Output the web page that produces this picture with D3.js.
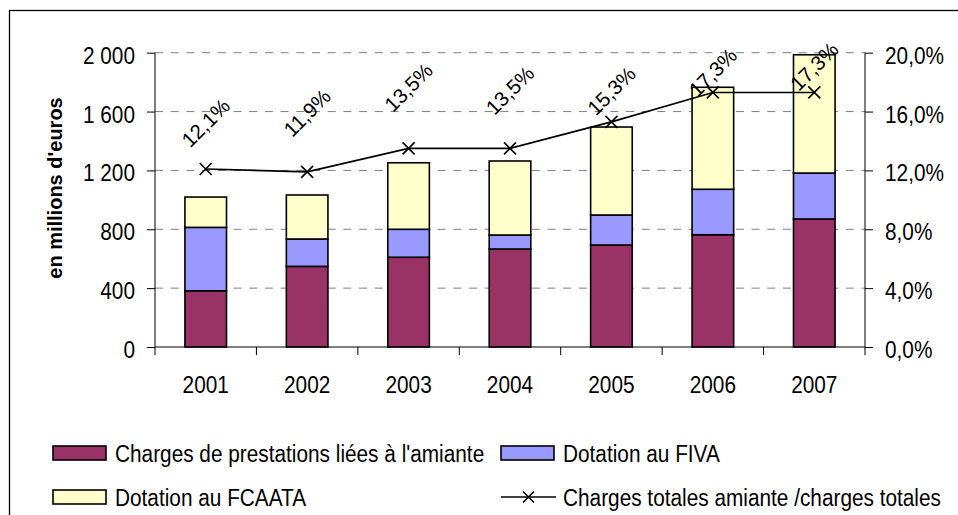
<!DOCTYPE html>
<html>
<head>
<meta charset="utf-8">
<script src="https://cdn.jsdelivr.net/npm/d3@7"></script>
<style>
  body { margin: 0; background: #fff; }
  svg { display: block; font-family: "Liberation Sans", Arial, sans-serif; }
</style>
</head>
<body>
<svg id="chart" width="958" height="515"></svg>
<script>
// data
const years = ["2001", "2002", "2003", "2004", "2005", "2006", "2007"];
const prestations = [382, 548, 610, 666, 693, 763, 870];
const fiva = [431, 186, 190, 95, 204, 309, 312];
const fcaata = [206, 299, 452, 503, 598, 693, 804];
const ratio = [0.121, 0.119, 0.135, 0.135, 0.153, 0.173, 0.173];
const ratioLabels = ["12,1%", "11,9%", "13,5%", "13,5%", "15,3%", "17,3%", "17,3%"];
const leftTicks = [0, 400, 800, 1200, 1600, 2000];
const rightTicks = [0, 0.04, 0.08, 0.12, 0.16, 0.20];
const seriesNames = ["Charges de prestations liées à l'amiante", "Dotation au FIVA", "Dotation au FCAATA"];
const lineName = "Charges totales amiante /charges totales";

// label placement tweaks (px above marker), as in the original
const labelShift = [-46, -59, -61, -58, -31, -20, -26];

const colors = ["#993366", "#9999ff", "#ffffcc"];
const stretch = "scale(1,1.15)";
const fs = "20.8px";

let svg = d3.select("#chart");

let margin = {top: 52.7, left: 155, right: 93, bottom: 168};
let width = 958 - margin.left - margin.right;
let height = 515 - margin.top - margin.bottom;

let fr = d3.formatLocale({decimal: ",", thousands: " ", grouping: [3], currency: ["", "€"]});

// outer frame (cut on right/bottom)
svg.append("rect")
    .attr("x", 9.5).attr("y", 10.5)
    .attr("width", 1000).attr("height", 600)
    .attr("fill", "none")
    .attr("stroke", "#000")
    .attr("stroke-width", 1.3);

let g = svg.append("g")
    .attr("transform", `translate(${margin.left}, ${margin.top})`);

let x = d3.scaleBand().domain(years).range([0, width]).padding(0);
let y = d3.scaleLinear().domain([0, 2000]).range([height, 0]);
let y2 = d3.scaleLinear().domain([0, 0.2]).range([height, 0]);

// gridlines
g.append("g")
    .selectAll("line")
    .data(leftTicks.filter(d => d > 0))
    .join("line")
    .attr("x1", 0).attr("x2", width)
    .attr("y1", d => y(d)).attr("y2", d => y(d))
    .attr("stroke", "#808080")
    .attr("stroke-width", 1)
    .attr("stroke-dasharray", "8,7.7");

// left axis
let yAxis = g.append("g")
    .call(d3.axisLeft(y).tickValues(leftTicks).tickFormat(fr.format(",d")).tickSize(8).tickPadding(12));
yAxis.select(".domain").attr("d", `M0,${height + 8}V0`);
yAxis.selectAll("text")
    .attr("x", null).attr("dy", null)
    .attr("transform", `translate(-20,0) ${stretch}`)
    .attr("dy", "0.44em")
    .style("font-size", fs).style("fill", "#000");

// right axis
let yAxisR = g.append("g")
    .attr("transform", `translate(${width}, 0)`)
    .call(d3.axisRight(y2).tickValues(rightTicks).tickFormat(fr.format(".1%")).tickSize(8));
yAxisR.select(".domain").attr("d", `M0,${height + 8}V0`);
yAxisR.selectAll("text")
    .attr("x", null).attr("dy", null)
    .attr("transform", `translate(20,0) ${stretch}`)
    .attr("dy", "0.44em")
    .style("font-size", fs).style("fill", "#000");

// bottom axis: labels centered, ticks on the category boundaries
let xAxis = g.append("g")
    .attr("transform", `translate(0, ${height})`)
    .call(d3.axisBottom(x).tickSize(0));
xAxis.select(".domain").attr("d", `M0,0H${width}`);
xAxis.selectAll("text")
    .attr("y", null).attr("dy", null)
    .attr("transform", `translate(0,46) ${stretch}`)
    .style("font-size", fs).style("fill", "#000");
xAxis.selectAll(".bound")
    .data(years.slice(1))
    .join("line")
    .attr("class", "bound")
    .attr("x1", d => x(d)).attr("x2", d => x(d))
    .attr("y1", 0).attr("y2", 8)
    .attr("stroke", "#000");

// stacked bars
let rows = years.map((yr, i) => ({year: yr, a: prestations[i], b: fiva[i], c: fcaata[i]}));
let stacked = d3.stack().keys(["a", "b", "c"])(rows);
let barW = x.bandwidth() * 0.41;

g.selectAll("g.layer")
    .data(stacked)
    .join("g")
    .attr("class", "layer")
    .attr("fill", (d, i) => colors[i])
    .selectAll("rect")
    .data(d => d)
    .join("rect")
    .attr("x", d => x(d.data.year) + x.bandwidth() / 2 - barW / 2)
    .attr("y", d => y(d[1]))
    .attr("width", barW)
    .attr("height", d => y(d[0]) - y(d[1]))
    .attr("stroke", "#000")
    .attr("stroke-width", 1.6);

// ratio line
let cx = d => x(d) + x.bandwidth() / 2;
let line = d3.line()
    .x((d, i) => cx(years[i]))
    .y(d => y2(d));

g.append("path")
    .datum(ratio)
    .attr("d", line)
    .attr("fill", "none")
    .attr("stroke", "#000")
    .attr("stroke-width", 1.6);

let cross = function(sel, s) {
    sel.append("path")
        .attr("d", `M${-s},${-s}L${s},${s}M${-s},${s}L${s},${-s}`)
        .attr("stroke", "#000")
        .attr("stroke-width", 1.6);
};

g.selectAll("g.mark")
    .data(ratio)
    .join("g")
    .attr("class", "mark")
    .attr("transform", (d, i) => `translate(${cx(years[i])}, ${y2(d)})`)
    .call(cross, 6);

g.selectAll("text.lbl")
    .data(ratio)
    .join("text")
    .attr("class", "lbl")
    .attr("transform", (d, i) => `translate(${cx(years[i])}, ${y2(d) + labelShift[i]}) rotate(-45)`)
    .attr("text-anchor", "middle")
    .attr("dy", "0.35em")
    .style("font-size", "20.5px")
    .text((d, i) => ratioLabels[i]);

// y title
svg.append("text")
    .attr("transform", "translate(55, 188) rotate(-90)")
    .attr("text-anchor", "middle")
    .attr("dy", "0.35em")
    .style("font-size", "20px")
    .style("font-weight", "bold")
    .text("en millions d'euros");

// legend
let legend = [
    {type: "box", i: 0, x: 53, y: 453},
    {type: "box", i: 1, x: 501, y: 453},
    {type: "box", i: 2, x: 53, y: 497},
    {type: "line", x: 501, y: 497}
];

let lg = svg.selectAll("g.leg")
    .data(legend)
    .join("g")
    .attr("class", "leg")
    .attr("transform", d => `translate(${d.x}, ${d.y})`);

lg.filter(d => d.type == "box")
    .append("rect")
    .attr("x", 0).attr("y", -7)
    .attr("width", 53).attr("height", 14)
    .attr("fill", d => colors[d.i])
    .attr("stroke", "#000")
    .attr("stroke-width", 1.6);

let lineLeg = lg.filter(d => d.type == "line");
lineLeg.append("line")
    .attr("x1", 0).attr("x2", 55)
    .attr("y1", 0).attr("y2", 0)
    .attr("stroke", "#000")
    .attr("stroke-width", 1.6);
lineLeg.append("g")
    .attr("transform", "translate(27.5, 0)")
    .call(cross, 5.5);

lg.append("text")
    .attr("transform", `translate(62, 8.5) ${stretch}`)
    .style("font-size", fs)
    .text(d => d.type == "box" ? seriesNames[d.i] : lineName);
</script>
</body>
</html>
